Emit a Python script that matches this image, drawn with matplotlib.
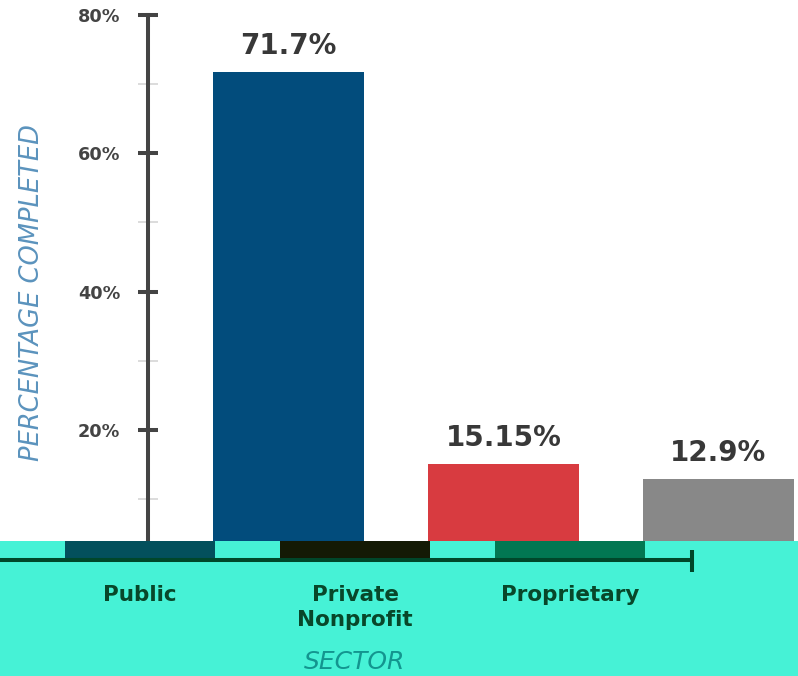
import numpy as np
import matplotlib
matplotlib.use("Agg")
import matplotlib.pyplot as plt

# data
sectors = ["Public", "Private\nNonprofit", "Proprietary"]
completed = [71.7, 15.15, 12.9]
value_labels = ["71.7%", "15.15%", "12.9%"]
yticks = [20, 40, 60, 80]
ytick_labels = ["20%", "40%", "60%", "80%"]
minor_yticks = [10, 30, 50, 70]

bar_colors = ["#024c7c", "#d83b40", "#888888"]
strip_colors = ["#03505c", "#141a05", "#027752"]
turq = "#46f2d6"
dark_green = "#08472a"

fig = plt.figure(figsize=(7.98, 6.76), dpi=100)
ax = fig.add_axes([0, 0, 1, 1])
ax.set_xlim(-0.651, 3.06)
ax.set_ylim(-15.5, 82.1)

idx = np.arange(len(sectors))
shift = 0.69  # bars sit to the right of their category labels
bars = ax.bar(idx + shift, completed, width=0.70, color=bar_colors, zorder=2)

for b, lab in zip(bars, value_labels):
    ax.annotate(lab, (b.get_x() + b.get_width() / 2, b.get_height()),
                xytext=(0, 13), textcoords="offset points",
                ha="center", va="baseline", fontsize=20, fontweight="bold",
                color="#383838")

# turquoise base band + coloured strip
ax.axhspan(-20, 3.97, color=turq, zorder=3, lw=0)
ax.bar(idx, 3.97 - 1.23, bottom=1.23, width=0.70, color=strip_colors, zorder=4)
ax.hlines(1.23, -0.651, 2.567, color="#00472a", lw=2.9, zorder=5)
ax.vlines(2.567, -0.5, 2.67, color="#00472a", lw=2.9, zorder=5)

for i, s in zip(idx, sectors):
    ax.text(i, -2.3, s, ha="center", va="top", fontsize=15.5,
            fontweight="bold", color=dark_green, linespacing=1.35, zorder=6)

ax.text(1.0, -13.5, "SECTOR", ha="center", va="center", fontsize=18,
        style="italic", color="#13958f", zorder=6)

# y axis
for s in ["top", "right", "bottom"]:
    ax.spines[s].set_visible(False)
ax.spines["left"].set_position(("data", 0.037))
ax.spines["left"].set_bounds(0, 80)
ax.spines["left"].set_linewidth(2.9)
ax.spines["left"].set_color("#444444")
ax.set_xticks([])
ax.set_yticks(yticks, ytick_labels)
ax.set_yticks(minor_yticks, minor=True)
ax.tick_params(axis="y", which="major", direction="inout", length=15,
               width=2.9, color="#444444", pad=12.5, labelsize=12.7,
               labelcolor="#444444")
ax.tick_params(axis="y", which="minor", direction="inout", length=15,
               width=1.2, color="#d5d5d5")
for t in ax.get_yticklabels():
    t.set_fontweight("bold")

fig.text(0.04, 0.567, "PERCENTAGE COMPLETED", rotation=90, ha="center",
         va="center", fontsize=18.5, style="italic", color="#5b93bd")

fig.savefig("out.png", dpi=100)
